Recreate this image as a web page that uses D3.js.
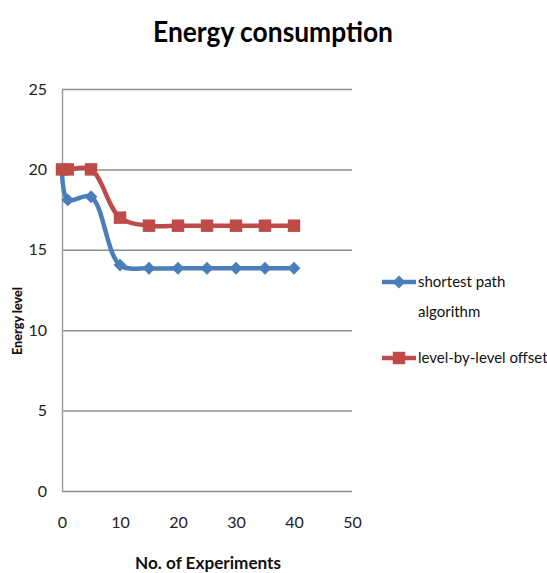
<!DOCTYPE html>
<html lang="en">
<head>
    <meta charset="UTF-8">
    <title>Energy consumption</title>
    <script src="https://d3js.org/d3.v7.min.js"></script>
    <style>
        body { margin: 0; background: #fff; }
        text { font-family: Lato, "Open Sans", sans-serif; }
    </style>
</head>
<body>
<svg id="chart"></svg>
<script>
    const seriesNames = ["shortest path algorithm", "level-by-level offset"];
    const xValues = [0, 1, 5, 10, 15, 20, 25, 30, 35, 40];
    const shortestPath = [19.9, 18.1, 18.3, 14.05, 13.85, 13.85, 13.85, 13.85, 13.85, 13.85];
    const levelByLevel = [20, 20, 20, 17.0, 16.5, 16.5, 16.5, 16.5, 16.5, 16.5];
    const xTicks = [0, 10, 20, 30, 40, 50];
    const yTicks = [0, 5, 10, 15, 20, 25];

    const width = 547, height = 573;
    const margins = { top: 89, right: 195, bottom: 82, left: 62 };
    const plotW = width - margins.left - margins.right;
    const plotH = height - margins.top - margins.bottom;

    const svg = d3.select("#chart").attr("width", width).attr("height", height);

    svg.append("text")
        .attr("x", 273).attr("y", 42)
        .attr("text-anchor", "middle")
        .attr("font-size", 28).attr("font-weight", "bold")
        .attr("fill", "#000")
        .attr("textLength", 240).attr("lengthAdjust", "spacingAndGlyphs")
        .text("Energy consumption");

    const g = svg.append("g").attr("transform", "translate(" + margins.left + "," + margins.top + ")");

    const xScale = d3.scaleLinear().domain([0, 50]).range([0, plotW]);
    const yScale = d3.scaleLinear().domain([0, 25]).range([plotH, 0]);

    // grid lines
    g.append("g")
        .call(d3.axisLeft(yScale).tickValues(yTicks).tickSize(-plotW).tickFormat(""))
        .call(a => a.select(".domain").remove())
        .selectAll("line").attr("stroke", "#8c8c8c").attr("stroke-width", 1.5);

    // y axis
    const yAxis = g.append("g")
        .call(d3.axisLeft(yScale).tickValues(yTicks).tickSize(0).tickPadding(15));
    yAxis.select(".domain").attr("stroke", "#a0a0a0").attr("stroke-width", 1.5);
    yAxis.selectAll("text").attr("font-size", 16).attr("fill", "#222")
        .style("font-family", "Lato, sans-serif");

    // x axis (labels only)
    const xAxis = g.append("g")
        .attr("transform", "translate(0," + plotH + ")")
        .call(d3.axisBottom(xScale).tickValues(xTicks).tickSize(0).tickPadding(26));
    xAxis.select(".domain").remove();
    xAxis.selectAll("text").attr("font-size", 16).attr("fill", "#222")
        .style("font-family", "Lato, sans-serif");

    svg.append("text")
        .attr("x", 208).attr("y", 569)
        .attr("text-anchor", "middle")
        .attr("font-size", 17).attr("font-weight", "bold")
        .attr("fill", "#111")
        .attr("textLength", 146).attr("lengthAdjust", "spacingAndGlyphs")
        .text("No. of Experiments");

    svg.append("text")
        .attr("transform", "translate(22,321) rotate(-90)")
        .attr("text-anchor", "middle")
        .attr("font-size", 14).attr("font-weight", "900")
        .attr("fill", "#111")
        .attr("textLength", 68).attr("lengthAdjust", "spacingAndGlyphs")
        .text("Energy level");

    const line = d3.line()
        .x(d => xScale(d[0]))
        .y(d => yScale(d[1]))
        .curve(d3.curveCatmullRom.alpha(0.5));

    const series = [
        { name: seriesNames[0], values: shortestPath, color: "#4a7ebb" },
        { name: seriesNames[1], values: levelByLevel, color: "#be4b48" }
    ];

    const diamond = d3.symbol().type(d3.symbolDiamond2).size(105);
    const square = d3.symbol().type(d3.symbolSquare).size(155);

    series.forEach(function(s, i) {
        const pts = xValues.map((x, j) => [x, s.values[j]]);
        g.append("path")
            .datum(pts)
            .attr("fill", "none")
            .attr("stroke", s.color)
            .attr("stroke-width", 4.5)
            .attr("d", line);
        g.selectAll(".m" + i)
            .data(pts)
            .enter().append("path")
            .attr("class", "m" + i)
            .attr("transform", d => "translate(" + xScale(d[0]) + "," + yScale(d[1]) + ")")
            .attr("d", i === 0 ? diamond : square)
            .attr("fill", s.color);
    });

    // legend
    const legend = svg.append("g");
    const legendRows = [
        { y: 282, color: "#4a7ebb", sym: diamond, lines: ["shortest path", "algorithm"] },
        { y: 358, color: "#be4b48", sym: square, lines: ["level-by-level offset"] }
    ];
    legendRows.forEach(function(r) {
        legend.append("line")
            .attr("x1", 382).attr("x2", 416)
            .attr("y1", r.y).attr("y2", r.y)
            .attr("stroke", r.color).attr("stroke-width", 4.5);
        legend.append("path")
            .attr("transform", "translate(399," + r.y + ")")
            .attr("d", r.sym)
            .attr("fill", r.color);
        r.lines.forEach(function(t, k) {
            legend.append("text")
                .attr("x", 418).attr("y", r.y + 5 + k * 30)
                .attr("font-size", 15).attr("fill", "#111")
                .text(t);
        });
    });
</script>
</body>
</html>
